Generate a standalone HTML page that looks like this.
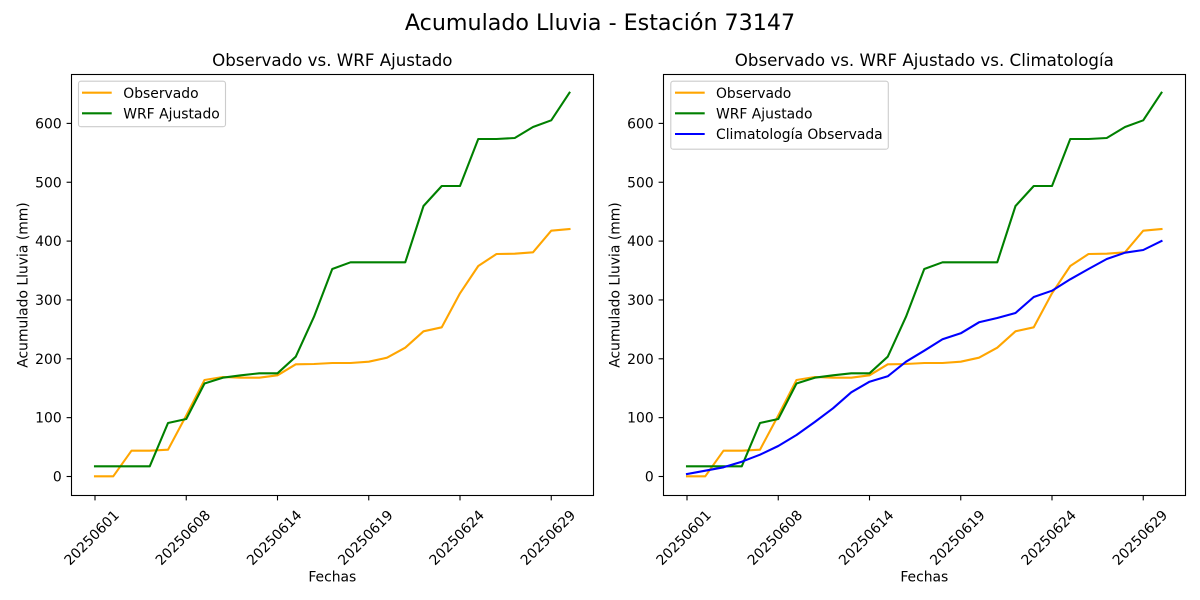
<!DOCTYPE html>
<html><head><meta charset="utf-8"><style>
html,body{margin:0;padding:0;background:#fff;}
svg{display:block;}
text{font-family:"DejaVu Sans","Liberation Sans",sans-serif;fill:#000;}
</style></head><body>
<svg width="1200" height="600" viewBox="0 0 1200 600" xmlns="http://www.w3.org/2000/svg">
<rect x="0" y="0" width="1200" height="600" fill="#fff"/>
<text x="600" y="30" font-size="22.2" text-anchor="middle">Acumulado Lluvia - Estación 73147</text>

<!-- LEFT PANEL -->
<text x="332.3" y="66" font-size="16.67" text-anchor="middle">Observado vs. WRF Ajustado</text>
<g fill="none" stroke-width="2.08" stroke-linejoin="round" stroke-linecap="square">
<polyline stroke="#FFA500" points="95,476.3 113.25,476.3 131.5,450.7 149.75,450.7 168,449.7 186.25,415.5 204.5,380 222.75,377 241,377.7 259.25,377.7 277.5,375.3 295.75,364.3 314,364 332.25,363 350.5,363 368.75,361.7 387,357.7 405.25,347.7 423.5,331.3 441.75,327.3 460,293.3 478.25,266 496.5,254 514.75,253.7 533,252.3 551.25,230.7 569.5,229"/>
<polyline stroke="#008000" points="95,466.3 113.25,466.3 131.5,466.3 149.75,466.3 168,423 186.25,419 204.5,383.5 222.75,377.7 241,375.3 259.25,373.3 277.5,373.3 295.75,356.7 314,316.7 332.25,269 350.5,262.3 368.75,262.3 387,262.3 405.25,262.3 423.5,206 441.75,186 460,186 478.25,139 496.5,139 514.75,138 533,127 551.25,120.3 569.5,92.7"/>
</g>
<rect x="71.5" y="74.5" width="522" height="421" fill="none" stroke="#000" stroke-width="1.1"/>
<g stroke="#000" stroke-width="1.1">
<line x1="66.6" y1="476.5" x2="71.5" y2="476.5"/>
<line x1="66.6" y1="417.65" x2="71.5" y2="417.65"/>
<line x1="66.6" y1="358.8" x2="71.5" y2="358.8"/>
<line x1="66.6" y1="299.95" x2="71.5" y2="299.95"/>
<line x1="66.6" y1="241.1" x2="71.5" y2="241.1"/>
<line x1="66.6" y1="182.25" x2="71.5" y2="182.25"/>
<line x1="66.6" y1="123.4" x2="71.5" y2="123.4"/>
<line x1="95" y1="495.5" x2="95" y2="500.4"/>
<line x1="186.25" y1="495.5" x2="186.25" y2="500.4"/>
<line x1="277.5" y1="495.5" x2="277.5" y2="500.4"/>
<line x1="368.75" y1="495.5" x2="368.75" y2="500.4"/>
<line x1="460" y1="495.5" x2="460" y2="500.4"/>
<line x1="551.25" y1="495.5" x2="551.25" y2="500.4"/>
</g>
<g font-size="13.9" text-anchor="end">
<text x="61.7" y="481.5">0</text>
<text x="61.7" y="422.65">100</text>
<text x="61.7" y="363.8">200</text>
<text x="61.7" y="304.95">300</text>
<text x="61.7" y="246.1">400</text>
<text x="61.7" y="187.25">500</text>
<text x="61.7" y="128.4">600</text>
<text transform="translate(120,516) rotate(-45)">20250601</text>
<text transform="translate(211.25,516) rotate(-45)">20250608</text>
<text transform="translate(302.5,516) rotate(-45)">20250614</text>
<text transform="translate(393.75,516) rotate(-45)">20250619</text>
<text transform="translate(485,516) rotate(-45)">20250624</text>
<text transform="translate(576.25,516) rotate(-45)">20250629</text>
</g>
<text x="332.3" y="581.5" font-size="13.9" text-anchor="middle">Fechas</text>
<text transform="translate(27.5,285) rotate(-90)" font-size="13.9" text-anchor="middle">Acumulado Lluvia (mm)</text>
<rect x="78.5" y="81.2" width="147" height="45.5" rx="2.5" fill="#fff" fill-opacity="0.8" stroke="#cccccc" stroke-width="1.1"/>
<line x1="82" y1="92.7" x2="111.7" y2="92.7" stroke="#FFA500" stroke-width="2.08"/>
<line x1="82" y1="113.3" x2="111.7" y2="113.3" stroke="#008000" stroke-width="2.08"/>
<text x="123.3" y="97.8" font-size="13.9">Observado</text>
<text x="123.3" y="118.4" font-size="13.9">WRF Ajustado</text>

<!-- RIGHT PANEL -->
<text x="924.3" y="66" font-size="16.67" text-anchor="middle">Observado vs. WRF Ajustado vs. Climatología</text>
<g fill="none" stroke-width="2.08" stroke-linejoin="round" stroke-linecap="square">
<polyline stroke="#FFA500" points="687,476.3 705.25,476.3 723.5,450.7 741.75,450.7 760,449.7 778.25,415.5 796.5,380 814.75,377 833,377.7 851.25,377.7 869.5,375.3 887.75,364.3 906,364 924.25,363 942.5,363 960.75,361.7 979,357.7 997.25,347.7 1015.5,331.3 1033.75,327.3 1052,293.3 1070.25,266 1088.5,254 1106.75,253.7 1125,252.3 1143.25,230.7 1161.5,229"/>
<polyline stroke="#008000" points="687,466.3 705.25,466.3 723.5,466.3 741.75,466.3 760,423 778.25,419 796.5,383.5 814.75,377.7 833,375.3 851.25,373.3 869.5,373.3 887.75,356.7 906,316.7 924.25,269 942.5,262.3 960.75,262.3 979,262.3 997.25,262.3 1015.5,206 1033.75,186 1052,186 1070.25,139 1088.5,139 1106.75,138 1125,127 1143.25,120.3 1161.5,92.7"/>
<polyline stroke="#0000FF" points="687,474 705.25,470.7 723.5,467.3 741.75,461.7 760,454.7 778.25,446 796.5,435 814.75,422 833,408.3 851.25,392.3 869.5,381.7 887.75,376.3 906,361.7 924.25,350.7 942.5,339.3 960.75,333.3 979,322.3 997.25,318 1015.5,313 1033.75,297 1052,290.7 1070.25,279.3 1088.5,269 1106.75,259 1125,252.7 1143.25,250 1161.5,241"/>
</g>
<rect x="663.5" y="74.5" width="522" height="421" fill="none" stroke="#000" stroke-width="1.1"/>
<g stroke="#000" stroke-width="1.1">
<line x1="658.6" y1="476.5" x2="663.5" y2="476.5"/>
<line x1="658.6" y1="417.65" x2="663.5" y2="417.65"/>
<line x1="658.6" y1="358.8" x2="663.5" y2="358.8"/>
<line x1="658.6" y1="299.95" x2="663.5" y2="299.95"/>
<line x1="658.6" y1="241.1" x2="663.5" y2="241.1"/>
<line x1="658.6" y1="182.25" x2="663.5" y2="182.25"/>
<line x1="658.6" y1="123.4" x2="663.5" y2="123.4"/>
<line x1="687" y1="495.5" x2="687" y2="500.4"/>
<line x1="778.25" y1="495.5" x2="778.25" y2="500.4"/>
<line x1="869.5" y1="495.5" x2="869.5" y2="500.4"/>
<line x1="960.75" y1="495.5" x2="960.75" y2="500.4"/>
<line x1="1052" y1="495.5" x2="1052" y2="500.4"/>
<line x1="1143.25" y1="495.5" x2="1143.25" y2="500.4"/>
</g>
<g font-size="13.9" text-anchor="end">
<text x="653.7" y="481.5">0</text>
<text x="653.7" y="422.65">100</text>
<text x="653.7" y="363.8">200</text>
<text x="653.7" y="304.95">300</text>
<text x="653.7" y="246.1">400</text>
<text x="653.7" y="187.25">500</text>
<text x="653.7" y="128.4">600</text>
<text transform="translate(712,516) rotate(-45)">20250601</text>
<text transform="translate(803.25,516) rotate(-45)">20250608</text>
<text transform="translate(894.5,516) rotate(-45)">20250614</text>
<text transform="translate(985.75,516) rotate(-45)">20250619</text>
<text transform="translate(1077,516) rotate(-45)">20250624</text>
<text transform="translate(1168.25,516) rotate(-45)">20250629</text>
</g>
<text x="924.3" y="581.5" font-size="13.9" text-anchor="middle">Fechas</text>
<text transform="translate(619.5,285) rotate(-90)" font-size="13.9" text-anchor="middle">Acumulado Lluvia (mm)</text>
<rect x="670.8" y="81.2" width="217.5" height="68" rx="2.5" fill="#fff" fill-opacity="0.8" stroke="#cccccc" stroke-width="1.1"/>
<line x1="675" y1="92.7" x2="704.7" y2="92.7" stroke="#FFA500" stroke-width="2.08"/>
<line x1="675" y1="113.3" x2="704.7" y2="113.3" stroke="#008000" stroke-width="2.08"/>
<line x1="675" y1="134" x2="704.7" y2="134" stroke="#0000FF" stroke-width="2.08"/>
<text x="716" y="97.8" font-size="13.9">Observado</text>
<text x="716" y="118.4" font-size="13.9">WRF Ajustado</text>
<text x="716" y="139.1" font-size="13.9">Climatología Observada</text>
</svg>
</body></html>
